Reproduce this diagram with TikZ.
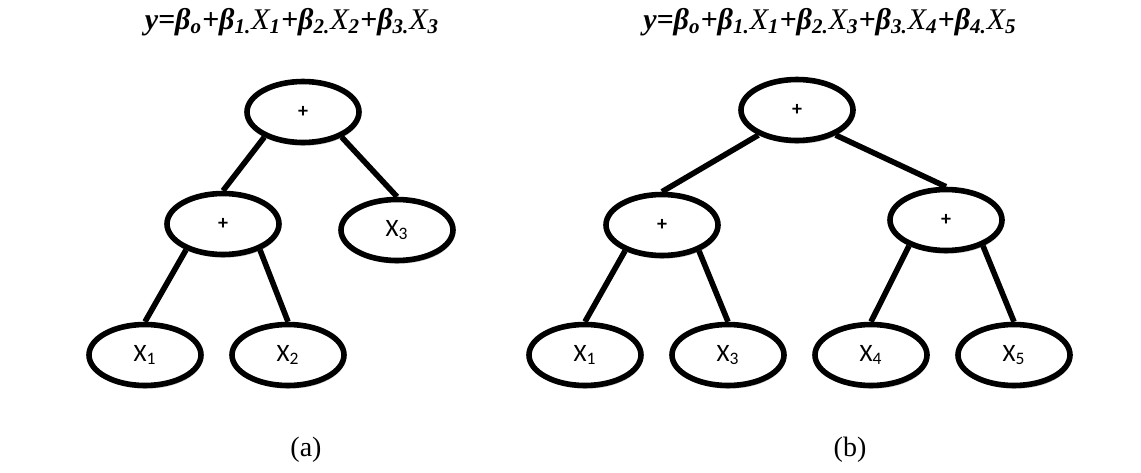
\documentclass[tikz,border=0pt]{standalone}
\usepackage{fontspec}
\setmainfont{Liberation Serif}
\setsansfont{Carlito}
\usetikzlibrary{shapes.geometric,shadows}

\newcommand{\xv}[1]{{\mdseries X}\textsubscript{#1}}

\begin{document}
\begin{tikzpicture}[x=0.5pt,y=-0.5pt,node distance=71.5pt,
   tnode/.style={ellipse,draw,line width=2.8pt,fill=white,inner sep=0pt,
      minimum width=56pt,minimum height=30.5pt,
      font=\sffamily\fontsize{12.5}{13}\selectfont,
      drop shadow={shadow xshift=0.6pt,shadow yshift=-1.6pt,fill=black!40,opacity=0.6}},
   op/.style={tnode,font=\sffamily\bfseries\fontsize{10}{11}\selectfont},
   link/.style={line width=2.8pt},
   eqn/.style={font=\bfseries\itshape\fontsize{15}{17}\selectfont},
   caplabel/.style={font=\fontsize{14}{16}\selectfont}]
   \useasboundingbox (0,0) rectangle (1141,472);

   % tree (a)
   \node[eqn] (eqa) at (292,22) {y=β\textsubscript{o}+β\textsubscript{1.}\xv{1}+β\textsubscript{2.}\xv{2}+β\textsubscript{3.}\xv{3}};
   \node[op]   (ra)  at (303,112)      {+};
   \node[op]   (pa)  at (223,224)      {+};
   \node[tnode] (x3a) at (397,230)     {X\textsubscript{3}};
   \node[tnode] (x1a) at (145,355)     {X\textsubscript{1}};
   \node[tnode] (x2a) [right of=x1a]   {X\textsubscript{2}};
   \node[caplabel] (capa) at (306,450) {(a)};

   \draw[link] (ra.213) -- (pa.north)  (ra.327) -- (x3a.north)
               (pa.215) -- (x1a.north) (pa.325) -- (x2a.north);

   % tree (b)
   \node[eqn] (eqb) at (830,22) {y=β\textsubscript{o}+β\textsubscript{1.}\xv{1}+β\textsubscript{2.}\xv{3}+β\textsubscript{3.}\xv{4}+β\textsubscript{4.}\xv{5}};
   \node[op]   (rb)  at (797,110)      {+};
   \node[op]   (pb)  at (662,225)      {+};
   \node[op]   (qb)  at (946,220)      {+};
   \node[tnode] (x1b) at (585,355)     {X\textsubscript{1}};
   \node[tnode] (x3b) [right of=x1b]   {X\textsubscript{3}};
   \node[tnode] (x4b) [right of=x3b]   {X\textsubscript{4}};
   \node[tnode] (x5b) [right of=x4b]   {X\textsubscript{5}};
   \node[caplabel] (capb) at (850,450) {(b)};

   \draw[link] (rb.213) -- (pb.north)  (rb.327) -- (qb.north)
               (pb.215) -- (x1b.north) (pb.325) -- (x3b.north)
               (qb.215) -- (x4b.north) (qb.325) -- (x5b.north);
\end{tikzpicture}
\end{document}
